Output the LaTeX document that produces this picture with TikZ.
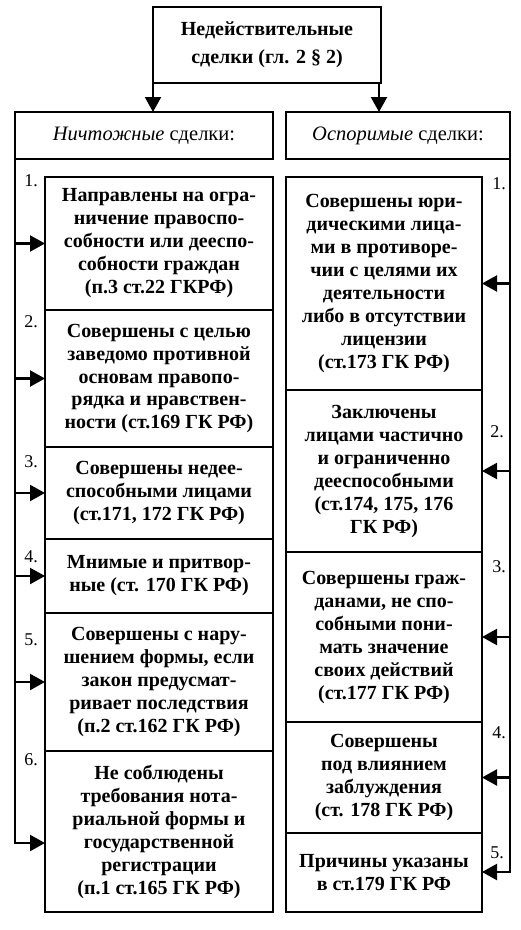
\documentclass[tikz,border=0pt]{standalone}
\usepackage{fontspec}
\setmainfont{Liberation Serif}
\usetikzlibrary{arrows.meta}
\begin{document}
\begin{tikzpicture}[x=1pt,y=-1pt,
  box/.style={draw, line width=2pt, align=center, inner sep=0pt, outer sep=0pt, anchor=north west,
    font=\bfseries\fontsize{20}{23}\selectfont},
  lbox/.style={box, minimum width=228pt},
  head/.style={draw, line width=2pt, align=center, inner sep=0pt, outer sep=0pt, anchor=north west,
    minimum height=47pt, font=\fontsize{20.5}{23}\selectfont},
  arr/.style={line width=2.2pt, -{Triangle[length=15pt,width=16pt]}},
  num/.style={font=\fontsize{18}{20}\selectfont, inner sep=0pt}]
\useasboundingbox (0,0) rectangle (520,930);

% top box
\node[box, minimum width=228pt, minimum height=76pt, font=\bfseries\fontsize{20}{28}\selectfont] (top) at (153,7)
  {Недействительные\\сделки (гл. 2 § 2)};

% headers
\node[head, minimum width=258pt] (lhead) at (15,112) {\textit{Ничтожные} сделки:};
\node[head, minimum width=224pt] (rhead) at (286,112) {\textit{Оспоримые} сделки:};

\draw[arr] (top.south west) -- (top.south west |- lhead.north);
\draw[arr] ([xshift=-2pt]top.south east) -- ([xshift=-2pt]top.south east |- rhead.north);

% left column
\node[lbox, minimum height=133pt] (L1) at (45,177)
  {Направлены на огра-\\ничение правоспо-\\собности или дееспо-\\собности граждан\\(п.3 ст.22 ГКРФ)};
\node[lbox, minimum height=137pt] (L2) at (45,310)
  {Совершены с целью\\заведомо противной\\основам правопо-\\рядка и нравствен-\\ности (ст.169 ГК РФ)};
\node[lbox, minimum height=92pt] (L3) at (45,447)
  {Совершены недее-\\способными лицами\\(ст.171, 172 ГК РФ)};
\node[lbox, minimum height=74pt] (L4) at (45,539)
  {Мнимые и притвор-\\ные (ст. 170 ГК РФ)};
\node[lbox, minimum height=138pt] (L5) at (45,613)
  {Совершены с нару-\\шением формы, если\\закон предусмат-\\ривает последствия\\(п.2 ст.162 ГК РФ)};
\node[lbox, minimum height=161pt] (L6) at (45,751)
  {Не соблюдены\\требования нота-\\риальной формы и\\государственной\\регистрации\\(п.1 ст.165 ГК РФ)};

% right column
\node[box, minimum width=196pt, minimum height=213pt] (R1) at (286,177)
  {Совершены юри-\\дическими лица-\\ми в противоре-\\чии с целями их\\деятельности\\либо в отсутствии\\лицензии\\(ст.173 ГК РФ)};
\node[box, minimum width=196pt, minimum height=162pt] (R2) at (286,390)
  {Заключены\\лицами частично\\и ограниченно\\дееспособными\\(ст.174, 175, 176\\ГК РФ)};
\node[box, minimum width=196pt, minimum height=170pt] (R3) at (286,552)
  {Совершены граж-\\данами, не спо-\\собными пони-\\мать значение\\своих действий\\(ст.177 ГК РФ)};
\node[box, minimum width=196pt, minimum height=111pt] (R4) at (286,722)
  {Совершены\\под влиянием\\заблуждения\\(ст. 178 ГК РФ)};
\node[box, minimum width=196pt, minimum height=79pt] (R5) at (286,833)
  {Причины указаны\\в ст.179 ГК РФ};

% left connector
\coordinate (lb) at (15,843);
\draw[arr] (lhead.south west) -- (lb) -- (lb -| L6.west);
\foreach \n in {L1,L2,L3,L4,L5}
  \draw[arr] (\n.west -| lb) -- (\n.west);

% right connector
\coordinate (rb) at (510,872);
\draw[arr] (rhead.south east) -- (rb) -- (rb -| R5.east);
\foreach \n in {R1,R2,R3,R4}
  \draw[arr] (\n.east -| rb) -- (\n.east);

% numbers
\node[num] (nl1) at (31,181) {1.};
\node[num] (nl2) at (31,322) {2.};
\node[num] (nl3) at (31,462) {3.};
\node[num] (nl4) at (31,557) {4.};
\node[num] (nl5) at (31,640) {5.};
\node[num] (nl6) at (31,760) {6.};
\node[num] (nr1) at (499,184) {1.};
\node[num] (nr2) at (497,432) {2.};
\node[num] (nr3) at (499,567) {3.};
\node[num] (nr4) at (499,733) {4.};
\node[num] (nr5) at (497,853) {5.};
\end{tikzpicture}
\end{document}
